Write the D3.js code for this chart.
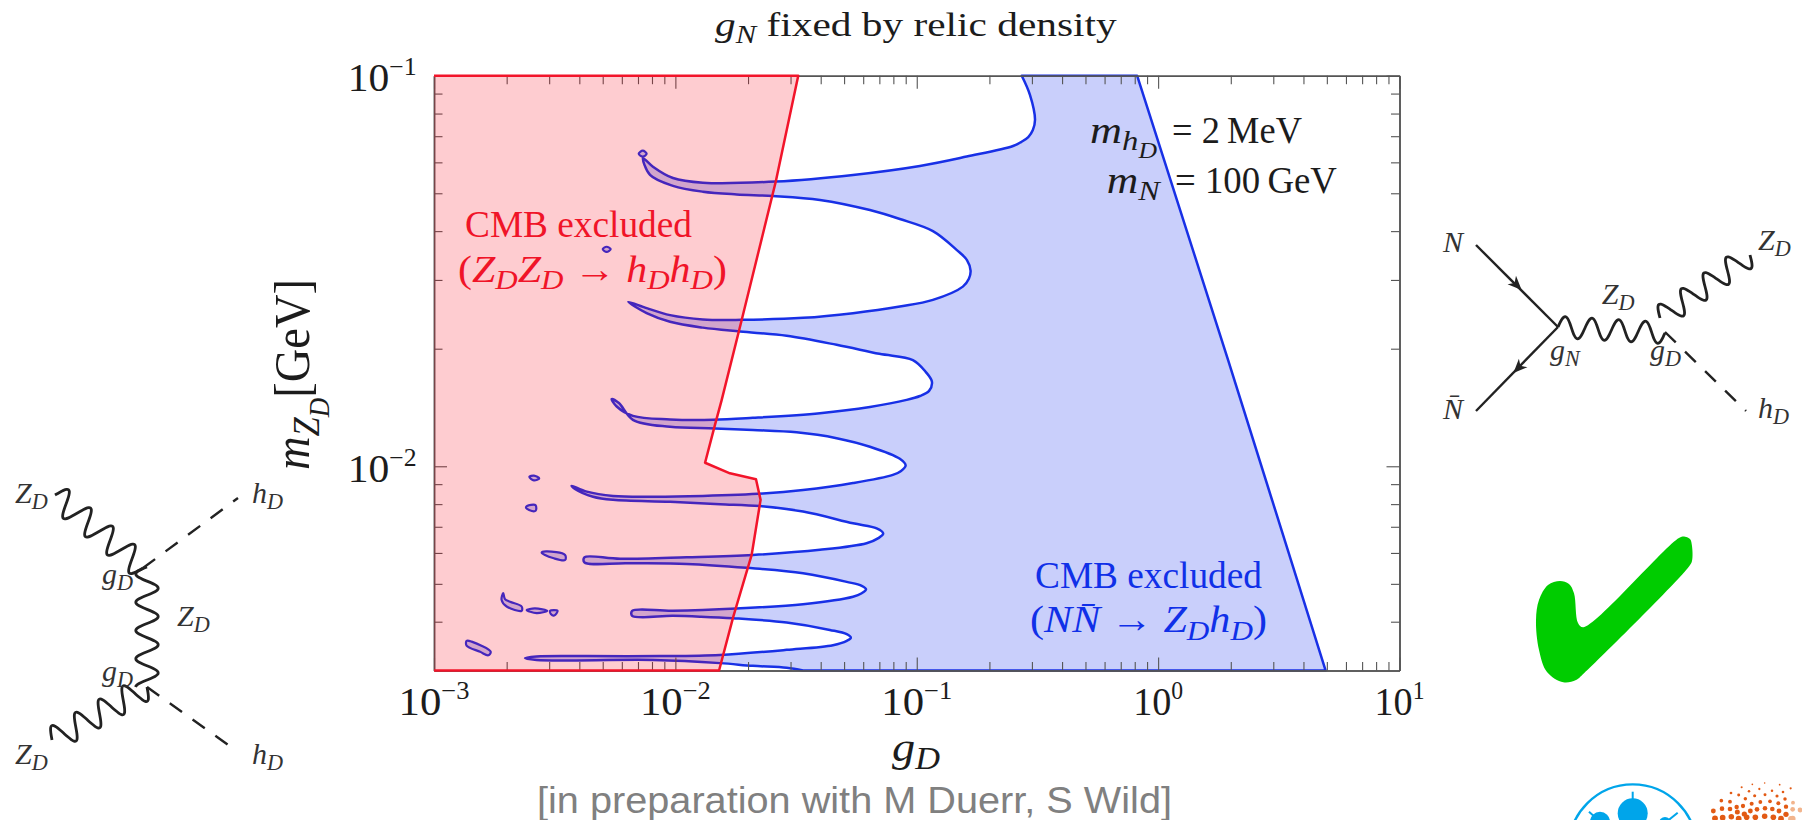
<!DOCTYPE html>
<html><head><meta charset="utf-8">
<script src="https://cdnjs.cloudflare.com/ajax/libs/d3/7.8.5/d3.min.js"></script>
<style>html,body{margin:0;padding:0;background:#fff}svg{display:block}text{white-space:pre}</style>
</head><body><svg id="c" width="1802" height="820"></svg>
<script>
// ---------- chart values (log10 of g_D, log10 of m_ZD) ----------
const xDecades = [-3,-2,-1,0,1];
const yDecades = [-2,-1];
const xTickLabels = ["\u22123","\u22122","\u22121","0","1"];
const yTickLabels = ["\u22122","\u22121"];
const contourLogG = [-0.565,-0.531,-0.510,-0.519,-0.538,-0.568,-0.601,-0.793,-0.987,-1.264,-1.584,-1.886,-2.010,-2.093,-2.134,
 -2.105,-2.010,-1.886,-1.746,-1.596,-1.401,-1.194,-1.070,-0.933,-0.835,-0.792,-0.777,-0.784,-0.809,-0.933,-1.070,-1.264,-1.471,-1.725,-1.886,-2.022,-2.119,-2.195,
 -2.119,-2.022,-1.886,-1.732,-1.539,-1.332,-1.155,-1.016,-0.962,-0.937,-0.949,-0.987,-1.042,-1.194,-1.401,-1.679,-1.844,-2.022,-2.176,-2.243,-2.264,
 -2.234,-2.176,-2.022,-1.836,-1.679,-1.498,-1.332,-1.194,-1.070,-1.046,-1.065,-1.099,-1.264,-1.471,-1.637,-1.886,-2.093,-2.258,-2.367,-2.430,
 -2.416,-2.341,-2.258,-2.022,-1.815,-1.650,-1.471,-1.264,-1.166,-1.139,-1.159,-1.208,-1.401,-1.679,-1.953,-2.229,-2.377,
 -2.377,-2.202,-1.953,-1.705,-1.471,-1.290,-1.228,-1.210,-1.228,-1.264,-1.471,-1.746,-2.010,-2.179,
 -2.179,-2.010,-1.898,-1.761,-1.539,-1.360,-1.290,-1.273,-1.290,-1.347,-1.539,-1.815,-2.064,-2.367,-2.575,-2.623,
 -2.575,-2.092,-1.815,-1.679,-1.539,-1.471];
const contourLogM = [-1.000,-1.049,-1.113,-1.139,-1.157,-1.170,-1.180,-1.207,-1.231,-1.254,-1.271,-1.274,-1.262,-1.233,-1.211,
 -1.254,-1.282,-1.297,-1.304,-1.308,-1.318,-1.344,-1.367,-1.398,-1.446,-1.472,-1.499,-1.520,-1.540,-1.574,-1.591,-1.608,-1.620,-1.625,-1.624,-1.613,-1.595,-1.579,
 -1.608,-1.630,-1.645,-1.655,-1.666,-1.689,-1.712,-1.728,-1.759,-1.784,-1.807,-1.820,-1.830,-1.848,-1.864,-1.876,-1.881,-1.880,-1.871,-1.847,-1.828,
 -1.838,-1.881,-1.899,-1.903,-1.907,-1.913,-1.928,-1.950,-1.981,-1.998,-2.012,-2.022,-2.043,-2.061,-2.070,-2.076,-2.078,-2.076,-2.065,-2.050,
 -2.058,-2.078,-2.086,-2.091,-2.097,-2.102,-2.116,-2.146,-2.159,-2.172,-2.184,-2.197,-2.214,-2.227,-2.233,-2.237,-2.233,
 -2.246,-2.248,-2.250,-2.260,-2.274,-2.296,-2.306,-2.315,-2.325,-2.334,-2.353,-2.364,-2.370,-2.370,
 -2.383,-2.383,-2.385,-2.389,-2.400,-2.419,-2.430,-2.439,-2.447,-2.458,-2.470,-2.483,-2.486,-2.486,-2.487,-2.491,
 -2.496,-2.496,-2.504,-2.511,-2.516,-2.5229];
const nnLimitLogG = [0.694,0.290,-0.087];
const nnLimitLogM = [-2.5229,-1.728,-1.000];
const cmbLimitLogG = [-1.491,-1.584,-1.725,-1.808,-1.836,-1.877,-1.774,-1.666,-1.647,-1.684,-1.760,-1.819];
const cmbLimitLogM = [-1.000,-1.271,-1.625,-1.830,-1.894,-1.991,-2.018,-2.033,-2.086,-2.227,-2.385,-2.5229];
const islandsLogG = [
 [-2.152,-2.135,-2.119,-2.135],
 [-2.301,-2.285,-2.268,-2.285],
 [-2.605,-2.586,-2.564,-2.586],
 [-2.619,-2.598,-2.579,-2.579,-2.606],
 [-2.554,-2.536,-2.457,-2.457,-2.507,-2.540],
 [-2.713,-2.720,-2.699,-2.637,-2.637,-2.685,-2.706],
 [-2.616,-2.582,-2.531,-2.575],
 [-2.519,-2.488,-2.502,-2.515],
 [-2.865,-2.844,-2.765,-2.775,-2.809,-2.865]];
const islandsLogM = [
 [-1.200,-1.192,-1.200,-1.207],
 [-1.444,-1.438,-1.444,-1.451],
 [-2.027,-2.024,-2.031,-2.036],
 [-2.105,-2.099,-2.100,-2.114,-2.112],
 [-2.221,-2.218,-2.227,-2.240,-2.235,-2.227],
 [-2.325,-2.342,-2.359,-2.370,-2.359,-2.347,-2.340],
 [-2.368,-2.364,-2.370,-2.376],
 [-2.370,-2.370,-2.382,-2.379],
 [-2.447,-2.449,-2.475,-2.484,-2.475,-2.459]];

// ---------- scales ----------
const x = d3.scaleLog().domain([1e-3,10]).range([434,1399.5]);
const y = d3.scaleLog().domain([0.003,0.1]).range([670.5,75.7]);
const svg = d3.select('#c');
svg.append('rect').attr('width',1802).attr('height',820).attr('fill','#fff');

const pts = (lg,lm)=>lg.map((v,i)=>[x(10**v),y(10**lm[i])]);
const smooth = d3.line().curve(d3.curveCatmullRom.alpha(0.5));
const straight = d3.line();
const BLUE='#1830e6', RED='#f2142a', INK='#1c1c1c';

// ---------- math text helper ----------
const R=t=>({t}), I=t=>({t,i:1}), S=t=>({t,i:1,lvl:1}), SS=t=>({t,i:1,lvl:2}), U=t=>({t,up:1});
function tex(segs,o){
  const t=svg.append('text').attr('font-family','"Liberation Serif",serif')
    .attr('font-size',o.size).attr('fill',o.fill||INK).attr('text-anchor',o.anchor||'start');
  let cur=0;
  segs.forEach(s=>{
    const off = s.up? -0.40*o.size : s.lvl===1? 0.20*o.size : s.lvl===2? 0.40*o.size : 0;
    const fs = s.up? 0.62 : s.lvl===1? 0.74 : s.lvl===2? 0.58 : 1;
    t.append('tspan').attr('dy',off-cur).attr('font-size',o.size*fs)
      .style('font-style',s.i?'italic':'normal').text(s.t);
    cur=off;
  });
  const m=t.node().getComputedTextLength();
  const sx=o.w? o.w/m:1;
  t.attr('transform',`translate(${o.x},${o.y}) rotate(${o.rot||0}) scale(${sx},1)`);
  return t;
}

// ---------- blue region ----------
const contour = pts(contourLogG,contourLogM);
const nnLimit = pts(nnLimitLogG,nnLimitLogM);
const blueD = smooth(contour)+straight(nnLimit).replace(/^M/,'L');
svg.append('path').attr('d',blueD+'Z').attr('fill','#c9cffb').attr('stroke',BLUE).attr('stroke-width',2.5).attr('stroke-linejoin','round');
islandsLogG.forEach((g,i)=>{
  svg.append('path').attr('d',d3.line().curve(d3.curveCatmullRomClosed)(pts(g,islandsLogM[i])))
    .attr('fill','#c9cffb').attr('stroke',BLUE).attr('stroke-width',2.2);
});

// ---------- frame and ticks ----------
const xMinor=[],yMinor=[];
d3.range(-3,1).forEach(e=>d3.range(2,10).forEach(k=>xMinor.push(k*10**e)));
[-3,-2].forEach(e=>d3.range(e===-3?4:2,10).forEach(k=>yMinor.push(k*10**e)));
const xMajor=xDecades.map(e=>10**e), yMajor=yDecades.map(e=>10**e);
const axes=svg.append('g').attr('class','axes');
function ax(gen,scale,vals,size,tr){
  const g=axes.append('g').attr('transform',tr).call(gen(scale).tickValues(vals).tickSizeInner(size).tickSizeOuter(0).tickFormat(''));
  g.select('.domain').attr('stroke','#555').attr('stroke-width',1.5);
  g.selectAll('.tick line').attr('stroke','#555').attr('stroke-width',1.1);
}
[[xMajor,13],[xMinor,8.5]].forEach(([v,s])=>{
  ax(d3.axisBottom,x,v,-s,`translate(0,670.5)`);
  ax(d3.axisTop,x,v,-s,`translate(0,75.7)`);
});
[[yMajor,13],[yMinor,8.5]].forEach(([v,s])=>{
  ax(d3.axisLeft,y,v,-s,`translate(434,0)`);
  ax(d3.axisRight,y,v,-s,`translate(1399.5,0)`);
});

// ---------- red region ----------
const cmbLimit = pts(cmbLimitLogG,cmbLimitLogM);
const corner=(g,m)=>[x(g),y(m)];
const redPts=[corner(1e-3,0.1),...cmbLimit,corner(1e-3,0.003)];
svg.append('path').attr('d',straight(redPts)+'Z').attr('fill','rgb(250,0,20)').attr('fill-opacity',0.2);
svg.append('path').attr('d',straight(redPts)).attr('fill','none').attr('stroke',RED).attr('stroke-width',2.5).attr('stroke-linejoin','round');

// ---------- tick labels ----------
xDecades.forEach((e,i)=>tex([R('10'),U(xTickLabels[i])],{x:x(10**e),y:715,size:40,anchor:'middle',w:e<0?71:50}));
yDecades.forEach((e,i)=>tex([R('10'),U(yTickLabels[i])],{x:416.7,y:y(10**e)+15.7,size:40,anchor:'end',w:69}));

// ---------- titles and annotations ----------
tex([I('g'),S('N'),R(' fixed by relic density')],{x:715,y:36,size:33,w:402});
tex([I('g'),S('D')],{x:892,y:761,size:42,w:48});
tex([I('m'),S('Z'),SS('D'),R('[GeV]')],{x:309,y:470,size:50,w:191,rot:-90});
tex([R('CMB excluded')],{x:465,y:236.7,size:38,w:227,fill:'#f01428'});
tex([R('('),I('Z'),S('D'),I('Z'),S('D'),R(' \u2192 '),I('h'),S('D'),I('h'),S('D'),R(')')],{x:458,y:281.7,size:38,w:269,fill:'#f01428'});
tex([R('CMB excluded')],{x:1035,y:588.3,size:38,w:227,fill:'#1030e8'});
tex([R('('),I('N'),I('N\u0304'),R(' \u2192 '),I('Z'),S('D'),I('h'),S('D'),R(')')],{x:1030,y:632.3,size:38,w:237,fill:'#1030e8'});
tex([I('m'),S('h'),SS('D')],{x:1090,y:142.7,size:38,w:67});
tex([R('= 2\u2009MeV')],{x:1172,y:142.7,size:38,w:130});
tex([I('m'),S('N')],{x:1106.7,y:192.7,size:38,w:53});
tex([R('= 100\u2009GeV')],{x:1175,y:192.7,size:38,w:162});
svg.append('text').attr('x',537).attr('y',813).attr('font-family','"Liberation Sans",Arial,sans-serif').attr('font-size',36).attr('fill','#808080').attr('textLength',635).attr('lengthAdjust','spacingAndGlyphs').text('[in preparation with M Duerr, S Wild]');

// ---------- Feynman diagrams (decoration) ----------
const wave=(a,b,periods,amp)=>{
  const dx=b[0]-a[0],dy=b[1]-a[1],L=Math.hypot(dx,dy),n=Math.round(periods*16);
  const p=d3.range(n+1).map(i=>{const t=i/n,s=Math.sin(2*Math.PI*periods*t)*amp;return [a[0]+dx*t-dy/L*s,a[1]+dy*t+dx/L*s];});
  svg.append('path').attr('d',d3.line().curve(d3.curveBasis)(p)).attr('fill','none').attr('stroke','#222').attr('stroke-width',2.8);
};
const seg=(a,b,dash)=>svg.append('line').attr('x1',a[0]).attr('y1',a[1]).attr('x2',b[0]).attr('y2',b[1]).attr('stroke','#222').attr('stroke-width',2.4).attr('stroke-dasharray',dash||null);
const arrow=(c,a,b)=>{
  const L=Math.hypot(b[0]-a[0],b[1]-a[1]),ux=(b[0]-a[0])/L,uy=(b[1]-a[1])/L,nx=-uy,ny=ux;
  svg.append('path').attr('fill','#222').attr('d',straight([[c[0]+ux*7,c[1]+uy*7],[c[0]-ux*7+nx*6,c[1]-uy*7+ny*6],[c[0]-ux*3,c[1]-uy*3],[c[0]-ux*7-nx*6,c[1]-uy*7-ny*6]])+'Z');
};
const lab=(segs,px,py)=>tex(segs,{x:px,y:py,size:30,fill:'#333'});
// left diagram
wave([55,495],[143,568],4,-13);
wave([147,567],[147,687],4.25,11.5);
wave([52,740],[147,687],4,-13);
seg([143,568],[238,498],'15 13'); seg([147,687],[238,752],'15 13');
lab([I('Z'),S('D')],15,503); lab([I('h'),S('D')],252,503);
lab([I('g'),S('D')],102,584); lab([I('Z'),S('D')],177,626);
lab([I('g'),S('D')],102,681); lab([I('Z'),S('D')],15,764); lab([I('h'),S('D')],252,764);
// right diagram
const V1=[1558,327];
seg([1476,245],V1); seg(V1,[1476,411]);
arrow([1516.7,285],[1476,245],V1); arrow([1518.3,368],V1,[1476,411]);
wave(V1,[1665,333],4,-11);
wave([1660,318],[1750,255],4,-12);
seg([1665,332],[1746,411],'15 13');
lab([I('N')],1443,252); lab([I('N\u0304')],1443,419);
lab([I('Z'),S('D')],1601.7,304); lab([I('g'),S('N')],1550,360); lab([I('g'),S('D')],1650,360);
lab([I('Z'),S('D')],1758,250); lab([I('h'),S('D')],1758,418);

// ---------- check mark ----------
const checkOutline=[[1692,546],[1690,539],[1685,536.7],[1679,538],[1583.3,627.3],[1578,623],[1574,593.3],[1569,584],[1560,581],[1548,585],[1539,600],[1536,620],[1539,650],[1547,672],[1563.3,682.3],[1576,680],[1584,673.3],[1689,566.5],[1692,561]];
svg.append('path').attr('fill','#00cc00').attr('d',d3.line().curve(d3.curveCatmullRomClosed.alpha(0.5))(checkOutline));

// ---------- logos ----------
const logo=svg.append('g');
logo.append('circle').attr('cx',1632.7).attr('cy',848.4).attr('r',64).attr('fill','none').attr('stroke','#00a5ea').attr('stroke-width',2.4);
[[1632.7,813.3,15,1632.7,791.7],[1600,821.7,10,1589,811.7],[1665,823,6,1677.7,812.7]].forEach(([cx,cy,r,sx,sy])=>{
  logo.append('circle').attr('cx',cx).attr('cy',cy).attr('r',r).attr('fill','#00a5ea');
  logo.append('line').attr('x1',cx).attr('y1',cy).attr('x2',sx).attr('y2',sy).attr('stroke','#00a5ea').attr('stroke-width',2);
});
const haloDots=[[545,82],[577,73],[614,69],[659,74],[692,85],[513,99],[567,94],[598,87],[636,92],[669,96],[536,105],[556,116],[584,107],[615,104],[651,108],[675,117],[484,122],[510,125],[530,141],[549,138],[575,131],[601,126],[630,124],[655,130],[678,140],[460,153],[486,146],[510,147],[532,156],[553,162],[571,153],[591,148],[615,145],[637,147],[657,153],[678,163],[465,175],[488,173],[514,170],[536,176],[560,172],[586,172],[614,169],[640,172],[663,176]];
const haloFaint=[[699,128],[698,148],[698,176],[693,177],[720,150]];
const hx=d3.scaleLinear().domain([0,726]).range([1560,1802]), hy=d3.scaleLinear().domain([0,180]).range([760,820]);
const hr=d3.scaleLinear().domain([70,176]).range([0.8,2.9]);
logo.selectAll('.d').data(haloDots).join('circle').attr('cx',d=>hx(d[0])).attr('cy',d=>hy(d[1])).attr('r',d=>hr(d[1])).attr('fill','#e25a14');
logo.selectAll('.f').data(haloFaint).join('circle').attr('cx',d=>hx(d[0])).attr('cy',d=>hy(d[1])).attr('r',d=>hr(d[1])).attr('fill','#f2b48c');
</script></body></html>
